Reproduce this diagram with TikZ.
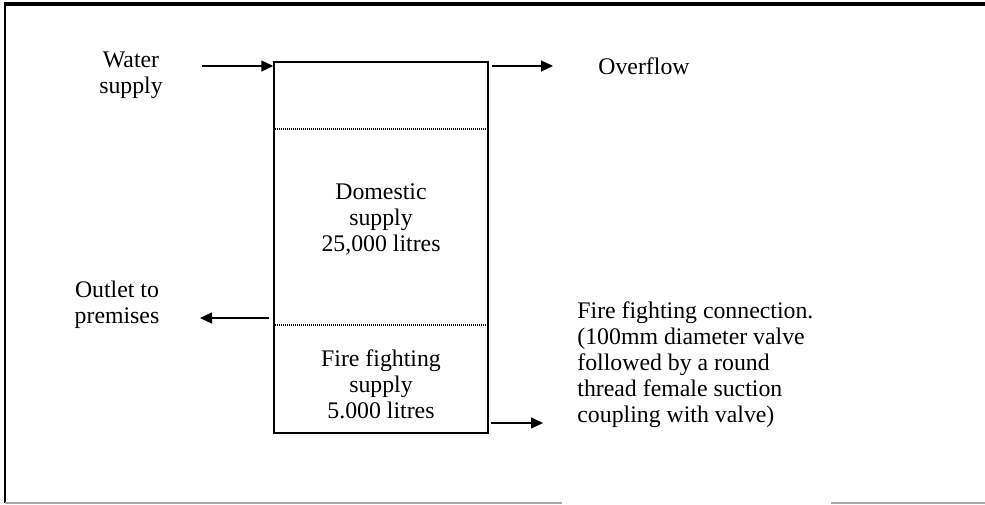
\documentclass[tikz,border=0pt]{standalone}
\usepackage{fontspec}
\setmainfont{Liberation Serif}
\usetikzlibrary{arrows.meta}

\begin{document}
\begin{tikzpicture}[
    x=0.5pt, y=-0.5pt,
    every node/.style={font=\fontsize{11.9}{13}\selectfont},
    tank/.style={
        rectangle,
        draw=black,
        line width=0.75pt,
        minimum width=107pt,
        minimum height=185.5pt,
        inner sep=0pt
    },
    label/.style={align=center, inner sep=0pt},
    level/.style={line width=0.6pt, dash pattern=on 0.5pt off 0.5pt},
    flow/.style={line width=0.6pt, -{Triangle[length=6pt, width=5.5pt]}}
    ]
    \useasboundingbox (0,0) rectangle (985,504);

    % frame
    \draw[line width=1.2pt] (5,503) -- (5,4);
    \draw[line width=1.6pt] (4,4) -- (985,4);
    \draw[gray!70, line width=1pt] (5,503) -- (562,503);
    \draw[gray!70, line width=1pt] (831,503) -- (985,503);

    % tank
    \node[tank] (tank) at (381,247.5) {};
    \draw[level] (tank.west |- 0,129) -- (tank.east |- 0,129);
    \draw[level] (tank.west |- 0,325) -- (tank.east |- 0,325);

    \node[label] (dom) at (381,219) {Domestic\\supply\\25,000 litres};
    \node[label] (fire) at (381,384) {Fire fighting\\supply\\5.000 litres};

    % pipes
    \node[label] (water) at (131,75) {Water\\supply};
    \node[label] (outlet) at (117,305) {Outlet to\\premises};
    \node[label, anchor=west] (over) at (598,66) {Overflow};
    \node[label, anchor=west, align=left] (conn) at (577,364.5)
        {Fire fighting connection.\\(100mm diameter valve\\followed by a round\\thread female suction\\coupling with valve)};

    \coordinate (win) at (202,66);
    \coordinate (wout) at (553,66);
    \coordinate (pout) at (200,318);
    \coordinate (fout) at (543,423);

    \draw[flow] (win) -- (tank.west |- win);
    \draw[flow] ([xshift=1.5pt]tank.east |- wout) -- (wout);
    \draw[flow] ([xshift=-2pt]tank.west |- pout) -- (pout);
    \draw[flow] ([xshift=1pt]tank.east |- fout) -- (fout);
\end{tikzpicture}
\end{document}
